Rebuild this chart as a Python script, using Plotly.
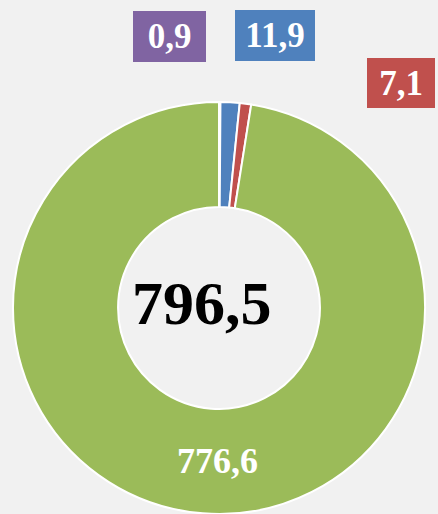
import plotly.graph_objects as go

# Slice data (clockwise from 12 o'clock)
labels = ["Прочие", "Категория B", "Категория C", "Категория A"]
values = [0.9, 11.9, 7.1, 776.6]
colors = ["#8064A2", "#4F81BD", "#C0504D", "#9BBB59"]
total = round(sum(values), 1)

W, H = 438, 514
SERIF = "Liberation Serif, Times New Roman, serif"


def fmt(v):
    return f"{v:.1f}".replace(".", ",")


fig = go.Figure(
    go.Pie(
        labels=labels,
        values=values,
        marker=dict(colors=colors, line=dict(color="white", width=2)),
        hole=0.49,
        sort=False,
        direction="clockwise",
        rotation=0,
        textinfo="none",
        hoverinfo="label+value+percent",
        showlegend=False,
        domain=dict(x=[13 / W, 425 / W], y=[0, 412 / H]),
    )
)

# Boxed callouts for the thin slices: (slice index, centre x px, centre y px, width, height)
callouts = [
    (0, 169.5, 36.5, 73, 51),
    (1, 275.0, 35.5, 80, 51),
    (2, 401.0, 83.0, 68, 50),
]
annotations = []
for i, cx, cy, bw, bh in callouts:
    annotations.append(
        dict(
            x=cx / W,
            y=1 - cy / H,
            xref="paper",
            yref="paper",
            xanchor="center",
            yanchor="middle",
            text=f"<b>{fmt(values[i])}</b>",
            showarrow=False,
            bgcolor=colors[i],
            width=bw,
            height=bh,
            borderpad=0,
            borderwidth=0,
            align="center",
            valign="middle",
            font=dict(family=SERIF, size=35, color="white"),
        )
    )

# Label of the dominant slice, inside the ring at the bottom
annotations.append(
    dict(
        x=217 / W,
        y=1 - 461 / H,
        xref="paper",
        yref="paper",
        xanchor="center",
        yanchor="middle",
        text=f"<b>{fmt(values[3])}</b>",
        showarrow=False,
        font=dict(family=SERIF, size=36, color="white"),
    )
)

# Total in the centre of the ring
annotations.append(
    dict(
        x=202 / W,
        y=1 - 303 / H,
        xref="paper",
        yref="paper",
        xanchor="center",
        yanchor="middle",
        text=f"<b>{fmt(total)}</b>",
        showarrow=False,
        font=dict(family=SERIF, size=62, color="black"),
    )
)

fig.update_layout(
    width=W,
    height=H,
    margin=dict(l=0, r=0, t=0, b=0),
    paper_bgcolor="#f1f1f1",
    plot_bgcolor="#f1f1f1",
    annotations=annotations,
)

fig.write_html("out.html")
